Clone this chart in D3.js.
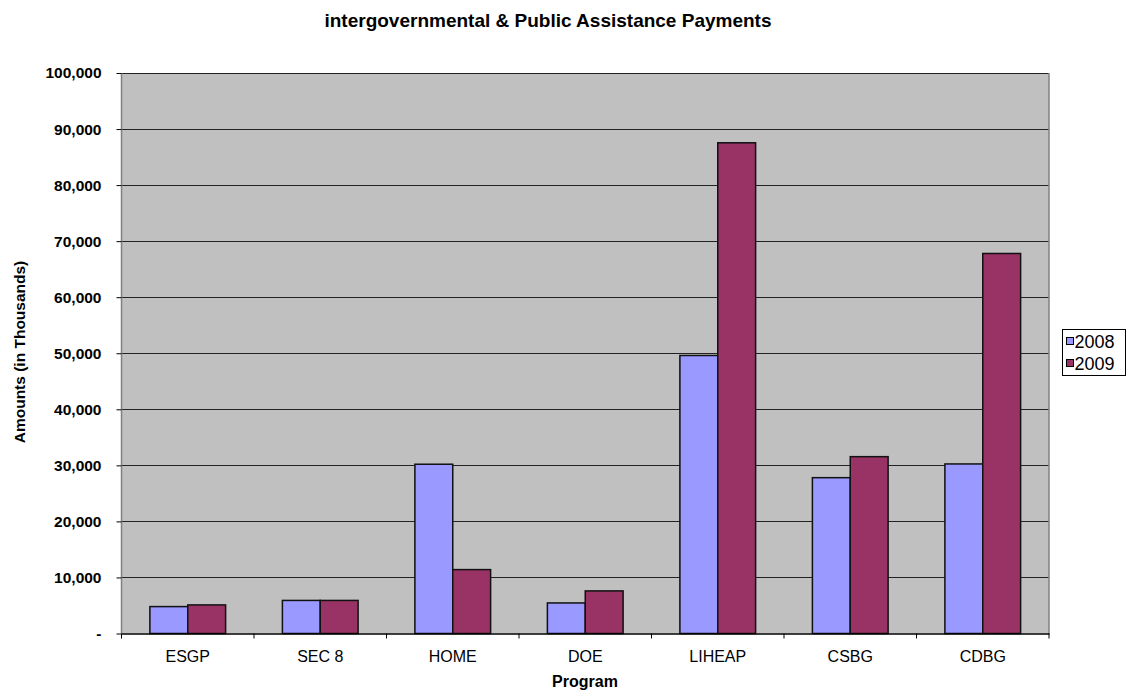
<!DOCTYPE html>
<html>
<head>
<meta charset="utf-8">
<script src="https://cdn.jsdelivr.net/npm/d3@7/dist/d3.min.js"></script>
<style>
  body { margin: 0; background: #fff; }
  text { font-family: "Liberation Sans", Arial, sans-serif; }
</style>
</head>
<body>
<div id="chart"></div>
<script>
var programs = ['ESGP', 'SEC 8', 'HOME', 'DOE', 'LIHEAP', 'CSBG', 'CDBG'];
var years = ['2008', '2009'];
var values2008 = [4800, 5900, 30200, 5450, 49600, 27800, 30250];
var values2009 = [5100, 5900, 11400, 7600, 87550, 31550, 67800];
var yTicks = [0, 10000, 20000, 30000, 40000, 50000, 60000, 70000, 80000, 90000, 100000];
var colors = ['#9999ff', '#993366'];

var width = 1126,
    height = 694,
    margin = {top: 73, right: 77, bottom: 61, left: 121.5};

var svg = d3.select('#chart').append('svg')
  .attr('width', width)
  .attr('height', height);

var x = d3.scaleBand()
  .domain(programs)
  .range([margin.left, width - margin.right]);

var inner = d3.scaleBand()
  .domain(years)
  .range([0, x.bandwidth()])
  .paddingOuter(0.75);

var y = d3.scaleLinear()
  .domain([0, 100000])
  .range([height - margin.bottom + 0.5, margin.top]);

// plot background
svg.append('rect')
  .attr('x', margin.left)
  .attr('y', margin.top)
  .attr('width', width - margin.right - margin.left)
  .attr('height', y(0) - margin.top)
  .attr('fill', '#c0c0c0');

// gridlines
svg.append('g')
  .selectAll('line')
  .data(yTicks.slice(1))
  .enter().append('line')
  .attr('x1', margin.left)
  .attr('x2', width - margin.right)
  .attr('y1', function(d) { return Math.round(y(d)) + 0.5; })
  .attr('y2', function(d) { return Math.round(y(d)) + 0.5; })
  .attr('stroke', '#222')
  .attr('stroke-width', 1);

// side borders
svg.append('line')
  .attr('x1', margin.left).attr('x2', margin.left)
  .attr('y1', margin.top).attr('y2', y(0))
  .attr('stroke', '#808080').attr('stroke-width', 1.5);
svg.append('line')
  .attr('x1', width - margin.right).attr('x2', width - margin.right)
  .attr('y1', margin.top).attr('y2', y(0))
  .attr('stroke', '#808080').attr('stroke-width', 1.5);

var series = [values2008, values2009];

var groups = svg.append('g')
  .selectAll('g')
  .data(programs)
  .enter().append('g')
  .attr('transform', function(d) { return 'translate(' + x(d) + ',0)'; });

groups.selectAll('rect')
  .data(function(d, i) {
    return years.map(function(yr, j) { return {year: yr, value: series[j][i], color: colors[j]}; });
  })
  .enter().append('rect')
  .attr('x', function(d) { return inner(d.year); })
  .attr('width', inner.bandwidth())
  .attr('y', function(d) { return y(d.value); })
  .attr('height', function(d) { return y(0) - y(d.value); })
  .attr('fill', function(d) { return d.color; })
  .attr('stroke', '#111')
  .attr('stroke-width', 1.5);

// y axis
var yAxis = svg.append('g')
  .attr('transform', 'translate(' + margin.left + ',0)')
  .call(d3.axisLeft(y)
    .tickValues(yTicks)
    .tickSize(5)
    .tickFormat(function(d) { return d === 0 ? '-' : d3.format(',')(d); }));
yAxis.select('.domain').remove();
yAxis.selectAll('line').attr('stroke', '#000');
yAxis.selectAll('text')
  .attr('x', -20)
  .style('font-size', '15.5px')
  .style('font-weight', 'bold')
  .attr('fill', '#000');

// x axis
var xAxis = svg.append('g')
  .attr('transform', 'translate(0,' + y(0) + ')')
  .call(d3.axisBottom(x).tickSize(0));
xAxis.select('.domain').attr('stroke', '#000').attr('stroke-width', 1.5);
xAxis.selectAll('text')
  .attr('y', 28)
  .attr('dy', null)
  .style('font-size', '16px')
  .attr('fill', '#000');

svg.append('g')
  .selectAll('line')
  .data(programs.concat(['end']))
  .enter().append('line')
  .attr('x1', function(d, i) { return margin.left + i * x.step(); })
  .attr('x2', function(d, i) { return margin.left + i * x.step(); })
  .attr('y1', y(0))
  .attr('y2', y(0) + 5)
  .attr('stroke', '#000');

// title
svg.append('text')
  .attr('x', 548)
  .attr('y', 27)
  .attr('text-anchor', 'middle')
  .style('font-size', '19px')
  .style('font-weight', 'bold')
  .text('intergovernmental & Public Assistance Payments');

// axis titles
svg.append('text')
  .attr('x', 585)
  .attr('y', 687)
  .attr('text-anchor', 'middle')
  .style('font-size', '16px')
  .style('font-weight', 'bold')
  .text('Program');

svg.append('text')
  .attr('transform', 'translate(25,352) rotate(-90)')
  .attr('text-anchor', 'middle')
  .style('font-size', '15.5px')
  .style('font-weight', 'bold')
  .text('Amounts (in Thousands)');

// legend
var legend = svg.append('g').attr('transform', 'translate(1062.5,329.5)');
legend.append('rect')
  .attr('width', 63)
  .attr('height', 46)
  .attr('fill', '#fff')
  .attr('stroke', '#000');
legend.selectAll('g')
  .data(years)
  .enter().append('g')
  .each(function(d, i) {
    var g = d3.select(this);
    g.append('rect')
      .attr('x', 4)
      .attr('y', 8 + i * 22)
      .attr('width', 7)
      .attr('height', 7)
      .attr('fill', colors[i])
      .attr('stroke', '#000');
    g.append('text')
      .attr('x', 12)
      .attr('y', 18.5 + i * 22)
      .style('font-size', '18px')
      .text(d);
  });
</script>
</body>
</html>
